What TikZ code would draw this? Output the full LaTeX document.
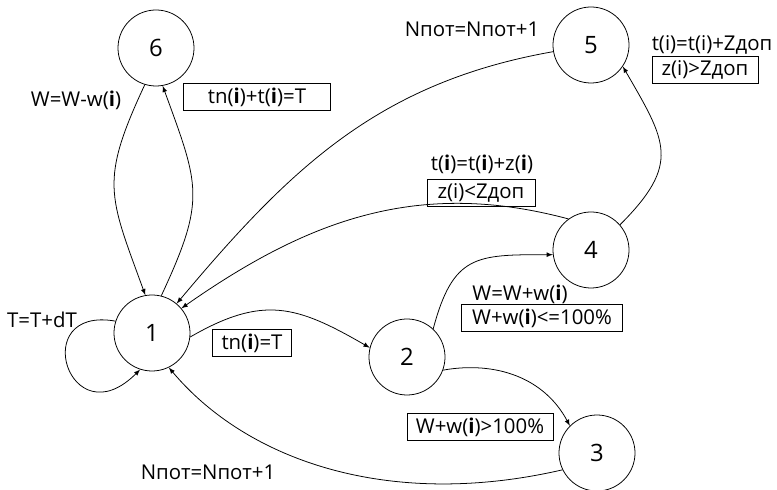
\documentclass[tikz,border=0pt]{standalone}
\usepackage{fontspec}
\setmainfont{Open Sans}
\usetikzlibrary{arrows,positioning}

\tikzset{
  state/.style={draw, circle, minimum size=1.9cm, inner sep=0pt, font=\fontsize{17}{20}\selectfont},
  cond/.style={draw, rectangle, minimum height=0.68cm, inner sep=2pt, font=\fontsize{14.5}{17}\selectfont},
  act/.style={inner sep=1pt, font=\fontsize{14.5}{17}\selectfont}
}
\newcommand{\bi}{\textbf{i}}

\begin{document}
\begin{tikzpicture}[x=0.025cm,y=0.025cm,>=latex,line width=0.55pt]
\useasboundingbox (0,0) rectangle (777,-490);
% States
  \node[state] (s6) at (156,-48) {6};
  \node[state] (s1) at (152,-333) {1};
  \node[state] (s2) at (407,-357) {2};
  \node[state] (s3) at (597,-453) {3};
  \node[state] (s4) at (591,-250) {4};
  \node[state] (s5) at (591,-45) {5};
% Actions
  \node[act] (a6) at (76,-100) {W=W-w(\bi)};
  \node[act] (a5) at (472,-29) {Nпот=Nпот+1};
  \node[act] (a45) at (712,-45) {t(i)=t(i)+Zдоп};
  \node[act] (a41) at (482,-164) {t(\bi)=t(\bi)+z(\bi)};
  \node[act] (a1) at (42,-320) {T=T+dT};
  \node[act] (a24) at (520,-294) {W=W+w(\bi)};
  \node[act] (a3) at (208,-472) {Nпот=Nпот+1};
% Conditions
  \node[cond, minimum width=3.675cm] (c16) at (257,-97) {tn(\bi)+t(\bi)=T};
  \node[cond, minimum width=2.65cm] (c45) at (705,-70) {z(i)>Zдоп};
  \node[cond, minimum width=2.7cm] (c41) at (481,-193) {z(i)<Zдоп};
  \node[cond, minimum width=1.975cm] (c12) at (252,-343) {tn(\bi)=T};
  \node[cond, minimum width=4.025cm] (c24) at (542,-318) {W+w(\bi)<=100\%};
  \node[cond, minimum width=3.65cm] (c23) at (480,-427) {W+w(\bi)>100\%};
% Transitions
  \draw[->] (s1.76) to[out=65,in=-70,looseness=1.3] (s6.-80);
  \draw[->] (s6.-107) to[out=-115,in=110,looseness=1.3] (s1.100);
  \draw[->] (s5.190) to[out=190,in=50] (s1.50);
  \draw[->] (s4.126) to[out=165,in=35] (s1.40);
  \draw[->] (s4.41) to[out=45,in=-60,looseness=1.4] (s5.-34);
  \draw[->] (s1.-6) to[out=30,in=150,looseness=1.2] (s2.166);
  \draw[->] (s2.47) to[out=75,in=180,looseness=1.4] (s4.187);
  \draw[->] (s2.-20) to[out=10,in=118] (s3.135);
  \draw[->] (s3.206) .. controls +(193:180) and +(-50:120) .. (s1.-64);
% Self loop
  \draw[->] (s1.162) .. controls +(170:90) and +(-135:100) .. (s1.-108);
\end{tikzpicture}
\end{document}
